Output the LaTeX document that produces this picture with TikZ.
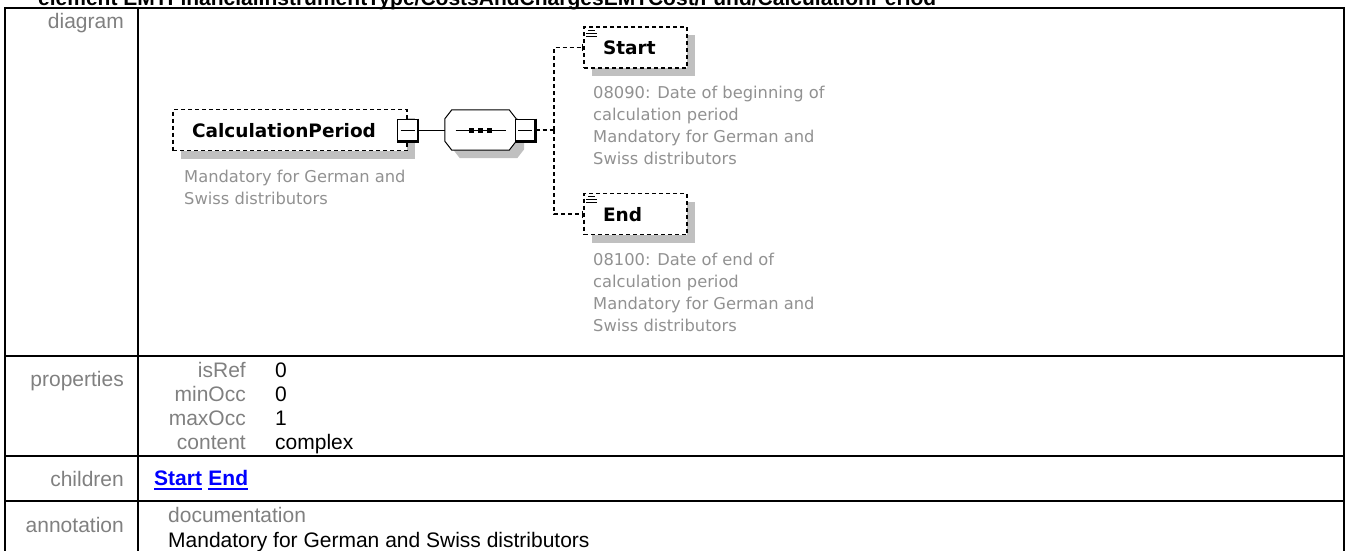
\documentclass[tikz,border=0pt]{standalone}
\usepackage{fontspec}
\setmainfont{Liberation Sans}
\newfontfamily\xsdfont{DejaVu Sans}
\usepackage{tikz}
\usetikzlibrary{positioning,shadows,arrows.meta}
\usepackage{xcolor}

\definecolor{labelgray}{RGB}{128,128,128}
\definecolor{docgray}{RGB}{145,145,145}
\definecolor{shadowgray}{RGB}{192,192,192}
\definecolor{linkblue}{RGB}{0,0,255}

\begin{document}
\begin{tikzpicture}[
    x=1pt, y=-1pt,
    tableline/.style={line width=2pt},
    rowlabel/.style={
      anchor=base east,
      inner sep=0pt,
      text=labelgray,
      font=\fontsize{21}{24}\selectfont
    },
    propval/.style={
      anchor=base west,
      inner sep=0pt,
      font=\fontsize{21}{24}\selectfont
    },
    element/.style={
      draw,
      fill=white,
      line width=1.3pt,
      dash pattern=on 4pt off 3pt,
      copy shadow={shadow xshift=8pt, shadow yshift=-8pt, fill=shadowgray, draw=none},
      minimum height=41pt,
      inner xsep=19pt,
      inner ysep=0pt,
      align=left,
      text height=14pt,
      text depth=0pt,
      font=\xsdfont\bfseries\fontsize{18.5}{22}\selectfont
    },
    elemdoc/.style={
      anchor=north west,
      inner sep=0pt,
      align=left,
      text=docgray,
      font=\xsdfont\fontsize{16.3}{22}\selectfont
    },
    collapse/.style={
      draw,
      fill=white,
      line width=1pt,
      minimum width=20pt,
      minimum height=22pt,
      inner sep=0pt,
      path picture={
        \draw[line width=1pt]
          ([xshift=3pt]path picture bounding box.west) --
          ([xshift=-3pt]path picture bounding box.east);
      }
    },
    sequence/.style={
      minimum width=71pt,
      minimum height=40pt,
      inner sep=0pt
    },
    solidlink/.style={line width=1pt},
    dashlink/.style={line width=1.3pt, dash pattern=on 4pt off 3pt}
  ]

    \useasboundingbox (0,0) rectangle (1346,550);

    % Title (cut off at the top)
    \node[anchor=base west, inner sep=0pt, font=\bfseries\fontsize{21}{24}\selectfont]
      (title) at (38,5)
      {element EMTFinancialInstrumentType/CostsAndChargesEMTCost/Fund/CalculationPeriod};

    % Table frame
    \draw[tableline] (5,8) -- (1344,8);
    \draw[tableline] (5,356) -- (1344,356);
    \draw[tableline] (5,456) -- (1344,456);
    \draw[tableline] (5,501) -- (1344,501);
    \draw[tableline] (5,7) -- (5,552);
    \draw[tableline] (138,7) -- (138,552);
    \draw[tableline] (1344,7) -- (1344,552);

    % Row labels
    \node[rowlabel] (lbldiagram) at (124,28) {diagram};
    \node[rowlabel] (lblproperties) at (124,386) {properties};
    \node[rowlabel] (lblchildren) at (124,486) {children};
    \node[rowlabel] (lblannotation) at (124,532) {annotation};

    % Diagram: elements
    \node[element, text width=196pt] (calcperiod) at (290,130) {CalculationPeriod};
    \node[elemdoc] (calcdoc) at (184,170)
      {Mandatory for German and\\Swiss distributors};

    % Sequence compositor
    \node[sequence] (seq) at (480.5,130) {};
    \fill[shadowgray, transform canvas={xshift=8pt, yshift=-8pt}]
      ([xshift=7pt]seq.north west) -- ([xshift=-7pt]seq.north east)
      -- ([yshift=-9pt]seq.north east) -- ([yshift=9pt]seq.south east)
      -- ([xshift=-7pt]seq.south east) -- ([xshift=7pt]seq.south west)
      -- ([yshift=9pt]seq.south west) -- ([yshift=-9pt]seq.north west) -- cycle;
    \draw[solidlink, fill=white]
      ([xshift=7pt]seq.north west) -- ([xshift=-7pt]seq.north east)
      -- ([yshift=-9pt]seq.north east) -- ([yshift=9pt]seq.south east)
      -- ([xshift=-7pt]seq.south east) -- ([xshift=7pt]seq.south west)
      -- ([yshift=9pt]seq.south west) -- ([yshift=-9pt]seq.north west) -- cycle;
    \draw[solidlink] ([xshift=-25pt]seq.center) -- ([xshift=25pt]seq.center);
    \foreach \dx in {-9,0,9}
      \fill ([xshift=\dx pt]seq.center) +(-2.5,-2.5) rectangle +(2.5,2.5);

    \node[element, text width=65pt] (start) at (635.5,47.5) {Start};
    \node[elemdoc] (startdoc) at (593,85.5)
      {08090: Date of beginning of\\calculation period\\Mandatory for German and\\Swiss distributors};

    \node[element, text width=65pt] (end) at (635.5,214) {End};
    \node[elemdoc] (enddoc) at (593,253)
      {08100: Date of end of\\calculation period\\Mandatory for German and\\Swiss distributors};

    % Simple content marks
    \foreach \n in {start,end} {
      \draw[line width=0.8pt] ([xshift=5pt,yshift=-4pt]\n.north west) -- ++(7,0);
      \draw[line width=0.8pt] ([xshift=3pt,yshift=-7pt]\n.north west) -- ++(11,0);
      \draw[line width=0.8pt] ([xshift=3pt,yshift=-10pt]\n.north west) -- ++(11,0);
    }

    % Collapse boxes
    \node[collapse] (calcminus) at (calcperiod.east) {};
    \node[collapse] (seqminus) at (525,130) {};
    \foreach \n in {calcminus,seqminus}
      \draw[line width=2.5pt] (\n.north east) -- (\n.south east) -- (\n.south west);

    % Connectors
    \coordinate (split) at (554,130);
    \draw[solidlink] (calcminus.east) -- (seq.west);
    \draw[dashlink] (seqminus.east) -- (split);
    \draw[dashlink, -{Bar[width=7pt, line width=1.2pt]}] (split) |- (start.west);
    \draw[dashlink, -{Bar[width=7pt, line width=1.2pt]}] (split) |- (end.west);

    % Properties
    \foreach \pname/\pval/\py in {isRef/0/377, minOcc/0/401, maxOcc/1/425, content/complex/449} {
      \node[rowlabel] (pn-\pname) at (246,\py) {\pname};
      \node[propval] (pv-\pname) at (275,\py) {\pval};
    }

    % Children
    \node[propval, text=linkblue, font=\bfseries\fontsize{21}{24}\selectfont]
      (chstart) at (154,485) {Start};
    \node[propval, text=linkblue, font=\bfseries\fontsize{21}{24}\selectfont]
      (chend) at ([xshift=6pt]chstart.base east) {End};
    \foreach \n in {chstart,chend}
      \draw[linkblue, line width=1.6pt]
        ([yshift=-4pt]\n.base west) -- ([yshift=-4pt]\n.base east);

    % Annotation
    \node[propval, text=labelgray] (docname) at (168,522) {documentation};
    \node[propval] (doctext) at (168,547) {Mandatory for German and Swiss distributors};

  \end{tikzpicture}
\end{document}
